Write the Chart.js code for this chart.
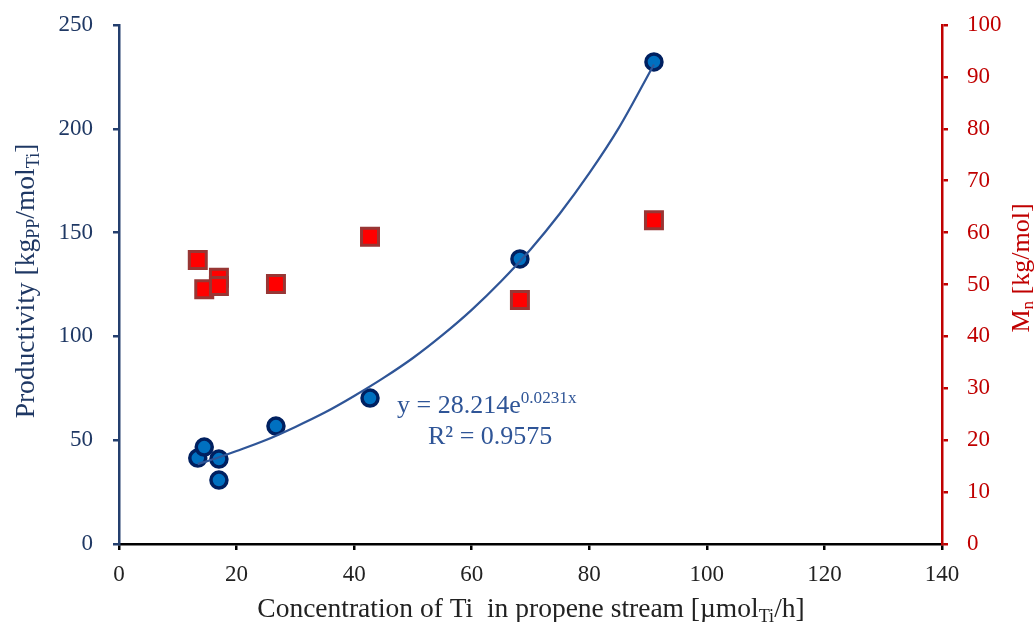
<!DOCTYPE html>
<html><head><meta charset="utf-8">
<script src="https://cdn.jsdelivr.net/npm/chart.js@4/dist/chart.umd.min.js"></script>
<style>html,body{margin:0;padding:0;background:#fff}#wrap{width:1035px;height:622px}</style>
</head><body><div id="wrap"><canvas id="c" width="1035" height="622"></canvas></div>
<script>
const concentration = [13.4, 14.5, 17.0, 17.0, 26.7, 42.7, 68.2, 91.0];
const productivity  = [41.4, 46.7, 40.9, 30.8, 56.8, 70.3, 137.3, 232.2];
const mnConcentration = [13.4, 14.5, 17.0, 17.0, 26.7, 42.7, 68.2, 91.0];
const mnValues = [54.7, 49.1, 51.3, 49.7, 50.1, 59.2, 47.0, 62.4];
const trendX = [13.4, 17, 20, 25, 30, 35, 40, 45, 50, 55, 60, 65, 70, 75, 80, 85, 91];
const trendY = [38.5, 41.8, 44.8, 50.1, 56.4, 63.3, 71.3, 80.0, 89.6, 100.6, 112.8, 126.6, 141.9, 159.2, 178.6, 200.3, 231.0];
const xTickLabels = ['0','20','40','60','80','100','120','140'];
const yTickLabels = ['0','50','100','150','200','250'];
const y2TickLabels = ['0','10','20','30','40','50','60','70','80','90','100'];

const FONT = "'Liberation Serif', 'Times New Roman', serif";
const FS = 23;
const TITLE_FS = 27.5;
const BLUE_AXIS = '#243f6e';
const BLUE_TXT = '#1f3864';
const RED = '#c00000';

function pts(xs, ys){ return xs.map((x,i)=>({x:x, y:ys[i]})); }

function segFont(s, size){ return (s.sub || s.sup ? size*0.66 : size); }

function drawRich(ctx, segs, cx, cy, rot, color, size){
  ctx.save();
  ctx.translate(cx, cy);
  ctx.rotate(rot);
  ctx.fillStyle = color;
  ctx.textBaseline = 'alphabetic';
  ctx.textAlign = 'left';
  let total = 0;
  const m = segs.map(s=>{
    const fs = segFont(s, size);
    ctx.font = fs + 'px ' + FONT;
    const w = ctx.measureText(s.t).width;
    total += w;
    return {s, fs, w};
  });
  let x = -total/2;
  const base = size*0.33;
  m.forEach(o=>{
    ctx.font = o.fs + 'px ' + FONT;
    let y = base;
    if (o.s.sub) y += size*0.17;
    if (o.s.sup) y -= size*0.36;
    ctx.fillText(o.s.t, x, y);
    x += o.w;
  });
  ctx.restore();
}

function drawRichLeft(ctx, segs, x0, cy, color, size){
  ctx.save();
  ctx.fillStyle = color;
  ctx.textBaseline = 'alphabetic';
  let x = x0;
  const base = size*0.33;
  segs.forEach(s=>{
    const fs = segFont(s, size);
    ctx.font = fs + 'px ' + FONT;
    let y = cy + base;
    if (s.sub) y += size*0.17;
    if (s.sup) y -= size*0.36;
    ctx.fillText(s.t, x, y);
    x += ctx.measureText(s.t).width;
  });
  ctx.restore();
}

const titles = {
  id: 'titles',
  afterDraw(chart){
    const ctx = chart.ctx;
    drawRich(ctx, [{t:'Productivity [kg'},{t:'PP',sub:true},{t:'/mol'},{t:'Ti',sub:true},{t:']'}], 25, 281, -Math.PI/2, BLUE_TXT, TITLE_FS);
    drawRich(ctx, [{t:'M'},{t:'n',sub:true},{t:' [kg/mol]'}], 1020, 268, -Math.PI/2, RED, 26);
    drawRich(ctx, [{t:'Concentration of Ti  in propene stream [\u00b5mol'},{t:'Ti',sub:true},{t:'/h]'}], 531, 608, 0, '#222', TITLE_FS);
    drawRichLeft(ctx, [{t:'y = 28.214e'},{t:'0.0231x',sup:true}], 397, 404, '#2f5597', 26);
    drawRichLeft(ctx, [{t:'R\u00b2 = 0.9575'}], 428, 435, '#2f5597', 26);
  }
};

function fixV(w){ return s => { s.width = w; s.paddingTop = 0; s.paddingBottom = 0; }; }

new Chart(document.getElementById('c'), {
  type: 'scatter',
  data: {
    datasets: [
      { label:'Trend', type:'line', data: pts(trendX, trendY), yAxisID:'y',
        borderColor:'#2f5597', borderWidth:2.25, pointRadius:0, cubicInterpolationMode:'monotone', fill:false, order:0 },
      { label:'Productivity', data: pts(concentration, productivity), yAxisID:'y',
        backgroundColor:'#0070c0', borderColor:'#002060', borderWidth:3.5, pointRadius:8, order:1 },
      { label:'Mn', data: pts(mnConcentration, mnValues), yAxisID:'y2', pointStyle:'rect',
        backgroundColor:'#ff0000', borderColor:'#983634', borderWidth:3, pointRadius:12, order:2 }
    ]
  },
  options: {
    responsive:false, animation:false,
    layout:{ padding:{ top:25, left:0, right:0, bottom:0 } },
    plugins:{ legend:{display:false}, tooltip:{enabled:false} },
    scales:{
      x:{ type:'linear', min:0, max:140,
        afterBuildTicks: s => { s.ticks = xTickLabels.map(v=>({value:+v})); },
        afterFit: s => { s.height = 78; s.paddingLeft = 0; s.paddingRight = 0; },
        ticks:{ color:'#222', font:{family:FONT, size:FS}, padding:11, maxRotation:0 },
        grid:{ drawOnChartArea:false, drawTicks:true, tickLength:6, color:'#000', lineWidth:2.5 },
        border:{ display:true, color:'#000', width:2.5 } },
      y:{ position:'left', min:0, max:250,
        afterBuildTicks: s => { s.ticks = yTickLabels.map(v=>({value:+v})); },
        afterFit: fixV(119),
        ticks:{ color:BLUE_TXT, font:{family:FONT, size:FS}, padding:20 },
        grid:{ drawOnChartArea:false, drawTicks:true, tickLength:6, color:BLUE_AXIS, lineWidth:2.5 },
        border:{ display:true, color:BLUE_AXIS, width:2.5 } },
      y2:{ position:'right', min:0, max:100,
        afterBuildTicks: s => { s.ticks = y2TickLabels.map(v=>({value:+v})); },
        afterFit: fixV(93),
        ticks:{ color:RED, font:{family:FONT, size:FS}, padding:19 },
        grid:{ drawOnChartArea:false, drawTicks:true, tickLength:6, color:RED, lineWidth:2.5 },
        border:{ display:true, color:RED, width:2.5 } }
    }
  },
  plugins:[titles]
});
</script></body></html>
